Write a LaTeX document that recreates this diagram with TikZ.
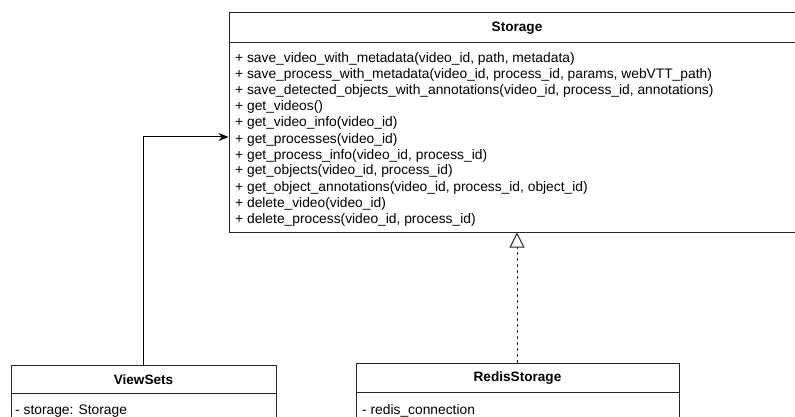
\documentclass[tikz,border=0pt]{standalone}
\usepackage{fontspec}
\setmainfont{Liberation Sans}
\usetikzlibrary{arrows.meta}
\begin{document}
\begin{tikzpicture}[x=1pt,y=-1pt,
  classbox/.style={draw=black!85, line width=1pt, fill=white, rectangle, inner sep=0pt},
  classtitle/.style={font=\fontsize{13.6}{16}\selectfont\bfseries, inner sep=0pt},
  member/.style={font=\fontsize{13.8}{16}\selectfont, inner sep=0pt, anchor=base west},
  assoc/.style={draw=black, line width=1pt, -{Stealth[length=10pt,width=8pt]}},
  realize/.style={draw=black!85, line width=1pt, dash pattern=on 3pt off 3pt,
    -{Triangle[open,length=15pt,width=15pt,line width=1pt]}}]
  \useasboundingbox (0,0) rectangle (795,417);
  \clip (0,0) rectangle (795,417);
  \fill[white] (0,0) rectangle (795,417);

  % Storage interface
  \node[classbox, minimum width=576pt, minimum height=219pt] (storage) at (517,122.5) {};
  \draw[black!85, line width=1pt] ([yshift=-30pt]storage.north west) -- ([yshift=-30pt]storage.north east);
  \node[classtitle] (storagetitle) at (517,28) {Storage};
  \foreach [count=\i from 0] \op in {
    {+ save\_video\_with\_metadata(video\_id, path, metadata)},
    {+ save\_process\_with\_metadata(video\_id, process\_id, params, webVTT\_path)},
    {+ save\_detected\_objects\_with\_annotations(video\_id, process\_id, annotations)},
    {+ get\_videos()},
    {+ get\_video\_info(video\_id)},
    {+ get\_processes(video\_id)},
    {+ get\_process\_info(video\_id, process\_id)},
    {+ get\_objects(video\_id, process\_id)},
    {+ get\_object\_annotations(video\_id, process\_id, object\_id)},
    {+ delete\_video(video\_id)},
    {+ delete\_process(video\_id, process\_id)}}
    \node[member] (storageop\i) at (235,{63+16*\i}) {\op};

  % ViewSets class
  \node[classbox, minimum width=265pt, minimum height=80pt] (viewsets) at (143.5,405) {};
  \draw[black!85, line width=1pt] ([yshift=-29pt]viewsets.north west) -- ([yshift=-29pt]viewsets.north east);
  \node[classtitle] (viewsetstitle) at (143.5,380) {ViewSets};
  \node[member] (viewsetsattr) at (15,414) {- storage: Storage};

  % RedisStorage class
  \node[classbox, minimum width=323pt, minimum height=82pt] (redis) at (517.5,404) {};
  \draw[black!85, line width=1pt] ([yshift=-30pt]redis.north west) -- ([yshift=-30pt]redis.north east);
  \node[classtitle] (redistitle) at (517.5,378) {RedisStorage};
  \node[member] (redisattr) at (362,414) {- redis\_connection};

  % connectors
  \draw[assoc] (viewsets.north) |- ([yshift=-14.5pt]storage.west);
  \draw[realize] (redis.north -| storage.south) -- (storage.south);
\end{tikzpicture}
\end{document}
